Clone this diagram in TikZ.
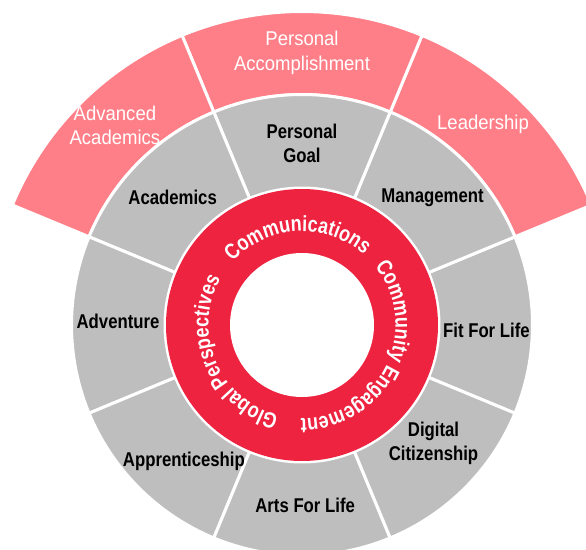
\documentclass[tikz,border=0pt]{standalone}
\usepackage{fontspec}
\setmainfont{Liberation Sans}
\newfontfamily\blackfont{Liberation Sans Bold}[FakeStretch=0.84]
\newfontfamily\whitefont{Liberation Sans}[FakeStretch=0.93]
\newfontfamily\ringfont{Liberation Sans Bold}[FakeStretch=0.82]
\usetikzlibrary{decorations.text}
\definecolor{ringred}{HTML}{EE2340}
\definecolor{petalpink}{HTML}{FF7F88}
\definecolor{segmentgrey}{HTML}{BEBEBE}
\newcommand{\lblfont}{\blackfont\fontsize{20}{24}\selectfont}
\newcommand{\petalfont}{\whitefont\fontsize{20}{24.5}\selectfont}
\newcommand{\ringtxtfont}{\ringfont\fontsize{22}{24}\selectfont}
\tikzstyle{segment} = [fill=segmentgrey, draw=white, line width=3bp]
\tikzstyle{petal} = [fill=petalpink, draw=white, line width=3bp]
\tikzstyle{lbl} = [align=center, text=black, font=\lblfont, inner sep=0pt]
\tikzstyle{petallbl} = [align=center, text=white, font=\petalfont, inner sep=0pt]
\tikzstyle{ringtext} = [decorate, decoration={text along path, text align=center, text color=white}]
% inner and outer radius of the grey ring
\def\rin{137}
\def\rout{230.5}
\def\rpetal{313.5}
\def\rtxt{93.5}

\begin{document}
\begin{tikzpicture}[x=1bp, y=1bp]
\useasboundingbox (-302,-225) rectangle (284,325);
\clip (-302,-225) rectangle (284,325);

% outer pink sectors
\foreach \a in {22.5, 67.5, 112.5}
  \draw [petal] (\a:\rout) arc[start angle=\a, end angle=\a+45, radius=\rout] -- (\a+45:\rpetal) arc[start angle=\a+45, end angle=\a, radius=\rpetal] -- cycle;

% grey sectors
\foreach \a in {-22.5, 22.5, ..., 292.5}
  \draw [segment] (\a:\rin) arc[start angle=\a, end angle=\a+45, radius=\rin] -- (\a+45:\rout) arc[start angle=\a+45, end angle=\a, radius=\rout] -- cycle;

% red ring
\fill [ringred] (0,0) circle[radius=136];
\fill [white] (0,0) circle[radius=72];

\path [ringtext, decoration={text={|\ringtxtfont|Communications}}] (150:\rtxt) arc[start angle=150, end angle=36, radius=\rtxt];
\path [ringtext, decoration={text={|\ringtxtfont|Community Engagement}}] (40:\rtxt) arc[start angle=40, end angle=-92, radius=\rtxt];
\path [ringtext, decoration={text={|\ringtxtfont|Global Perspectives}}] (260:\rtxt) arc[start angle=260, end angle=146, radius=\rtxt];

% labels of the grey ring
\node (pgoal) [lbl] at (90:182) {Personal\\Goal};
\node (mgmt) [lbl] at (44.2:182) {Management};
\node (fit) [lbl] at (-1.6:184.5) {Fit For Life};
\node (digital) [lbl] at (-42:177) {Digital\\Citizenship};
\node (arts) [lbl] at (-89:180) {Arts For Life};
\node (appr) [lbl] at (-131:180) {Apprenticeship};
\node (advent) [lbl] at (179:184) {Adventure};
\node (acad) [lbl] at (135.3:182) {Academics};

% labels of the pink sectors
\node (paccomp) [petallbl] at (90:272) {Personal\\Accomplishment};
\node (lead) [petallbl] at (48:270.5) {Leadership};
\node (advacad) [petallbl] at (133.1:273.8) {Advanced\\Academics};

\end{tikzpicture}
\end{document}
